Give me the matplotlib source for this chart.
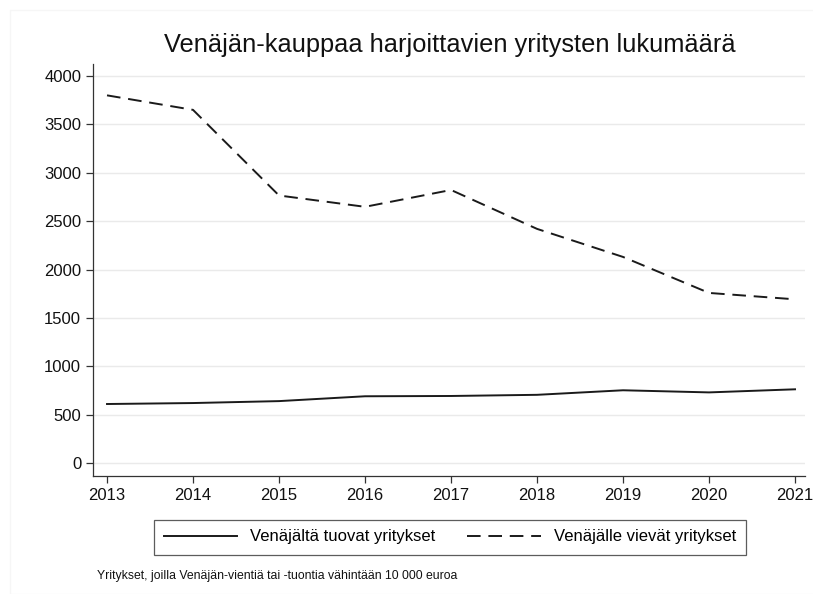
import matplotlib
matplotlib.use('Agg')
import matplotlib.pyplot as plt
from matplotlib.patches import Rectangle

plt.rcParams['font.family'] = ['Liberation Sans', 'DejaVu Sans']

years = [2013, 2014, 2015, 2016, 2017, 2018, 2019, 2020, 2021]
tuovat = [610, 620, 640, 690, 693, 705, 752, 730, 762]
vievat = [3800, 3650, 2765, 2648, 2822, 2420, 2130, 1758, 1692]

title = 'Venäjän-kauppaa harjoittavien yritysten lukumäärä'
label_tuovat = 'Venäjältä tuovat yritykset'
label_vievat = 'Venäjälle vievät yritykset'
note = 'Yritykset, joilla Venäjän-vientiä tai -tuontia vähintään 10 000 euroa'

fig = plt.figure(figsize=(8.13, 5.94), dpi=100)
fig.set_facecolor('white')
ax = fig.add_axes([93 / 813, 1 - 476 / 594, (805 - 93) / 813, (476 - 64) / 594])

ax.plot(years, tuovat, color='#1a1a1a', lw=1.4, label=label_tuovat)
ax.plot(years, vievat, color='#1a1a1a', lw=1.4, ls=(0, (7, 4)), label=label_vievat)

ax.set_xlim(2012.837, 2021.116)
ax.set_ylim(-134, 4124)
ax.set_xticks(years)
ax.set_yticks(range(0, 4001, 500))
ax.grid(axis='y', color='#eaeaea', lw=1)
ax.set_axisbelow(True)
for s in ['top', 'right']:
    ax.spines[s].set_visible(False)
for s in ['left', 'bottom']:
    ax.spines[s].set_color('#333333')
    ax.spines[s].set_linewidth(0.9)
ax.tick_params(direction='out', length=5, width=0.9, color='#333333',
               labelsize=12, labelcolor='#111111')

fig.text(450 / 813, 1 - 45 / 594, title, ha='center', va='center', fontsize=18.3,
         color='#111111')

leg = fig.legend(loc='center', bbox_to_anchor=(450 / 813, 1 - 537 / 594), ncol=2,
                 fontsize=12, frameon=True, fancybox=False, edgecolor='#333333',
                 handlelength=4.4, columnspacing=1.9, borderpad=0.6)
leg.get_frame().set_linewidth(0.9)

fig.text(97 / 813, 1 - 576 / 594, note, ha='left', va='center', fontsize=8.8,
         color='#111111')

fig.patches.append(Rectangle((10 / 813, 0), 1, 1 - 10 / 594, transform=fig.transFigure,
                             fill=False, edgecolor='#f6f6f6', lw=1))

fig.savefig('out.png', dpi=100)
